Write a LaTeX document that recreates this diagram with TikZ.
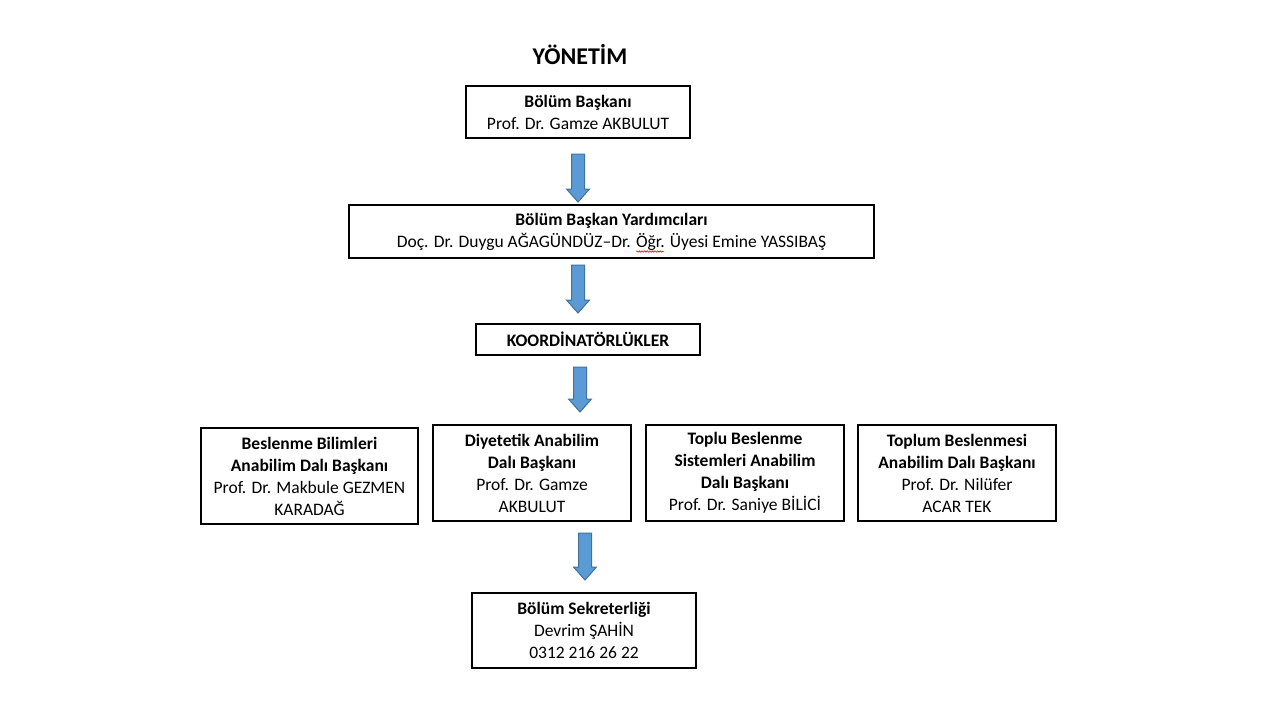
\documentclass[tikz,border=0pt]{standalone}
\usepackage{fontspec}
\setmainfont{Carlito}
\usetikzlibrary{decorations.pathmorphing}
\definecolor{arrowfill}{RGB}{91,155,213}
\definecolor{arrowline}{RGB}{65,113,156}
\newcommand\blockarrow[3]{%
  \draw[arrowsty] (#1-6.5,#2) -- (#1+6.5,#2) -- (#1+6.5,#3-13) -- (#1+11.5,#3-13) -- (#1,#3) -- (#1-11.5,#3-13) -- (#1-6.5,#3-13) -- cycle;}
\newlength\wdline
\newlength\wdpre
\newlength\wdword
\newcommand\boxfont{\fontsize{17.5}{22}\selectfont}
\begin{document}
\settowidth{\wdline}{\boxfont Doç. Dr. Duygu AĞAGÜNDÜZ–Dr. Öğr. Üyesi Emine YASSIBAŞ}%
\settowidth{\wdpre}{\boxfont Doç. Dr. Duygu AĞAGÜNDÜZ–Dr. }%
\settowidth{\wdword}{\boxfont Öğr.}%
\begin{tikzpicture}[x=1pt,y=-1pt,
  box/.style={draw=black,line width=1.6pt,align=center,inner sep=0pt,
    font=\boxfont},
  arrowsty/.style={fill=arrowfill,draw=arrowline,line width=1pt,line join=miter},
  title/.style={font=\fontsize{24}{28}\selectfont\bfseries},
  spell/.style={draw=red,line width=0.6pt,decorate,
    decoration={snake,amplitude=0.7pt,segment length=2.6pt}}]
\useasboundingbox (0,0) rectangle (1280,720);
\fill[white] (0,0) rectangle (1280,720);
\pgfmathsetmacro\ulstart{611.5-0.5*\wdline+\wdpre}
\pgfmathsetmacro\ulend{\ulstart+\wdword-1}
\node[title] (t) at (580,55) {YÖNETİM};
\node[box,minimum width=224,minimum height=52] (b1) at (578,112)
  {\textbf{Bölüm Başkanı}\\Prof. Dr. Gamze AKBULUT};
\node[box,minimum width=525,minimum height=53] (b2) at (611.5,231.5)
  {\textbf{Bölüm Başkan Yardımcıları}\\Doç. Dr. Duygu AĞAGÜNDÜZ–Dr. Öğr. Üyesi Emine YASSIBAŞ};
\coordinate (u1) at (\ulstart,251.5);
\coordinate (u2) at (\ulend,251.5);
\draw[spell] (u1) -- (u2);
\node[box,minimum width=224,minimum height=31] (b3) at (588,339.5)
  {\textbf{KOORDİNATÖRLÜKLER}};
\node[box,minimum width=217,minimum height=96] (c1) at (309.5,476)
  {\textbf{Beslenme Bilimleri}\\\textbf{Anabilim Dalı Başkanı}\\Prof. Dr. Makbule GEZMEN\\KARADAĞ};
\node[box,minimum width=198,minimum height=96] (c2) at (532,473)
  {\textbf{Diyetetik Anabilim}\\\textbf{Dalı Başkanı}\\Prof. Dr. Gamze\\AKBULUT};
\node[box,minimum width=198,minimum height=96] (c3) at (745,473)
  {\textbf{Toplu Beslenme}\\\textbf{Sistemleri Anabilim}\\\textbf{Dalı Başkanı}\\Prof. Dr. Saniye BİLİCİ};
\node[box,minimum width=198,minimum height=96] (c4) at (957,473)
  {\textbf{Toplum Beslenmesi}\\\textbf{Anabilim Dalı Başkanı}\\Prof. Dr. Nilüfer\\ACAR TEK};
\node[box,minimum width=224,minimum height=75] (b5) at (584,630.5)
  {\textbf{Bölüm Sekreterliği}\\Devrim ŞAHİN\\0312 216 26 22};
\blockarrow{578}{154}{202}
\blockarrow{578}{265}{313}
\blockarrow{580}{367}{412}
\blockarrow{585}{533}{580}
\end{tikzpicture}
\end{document}
